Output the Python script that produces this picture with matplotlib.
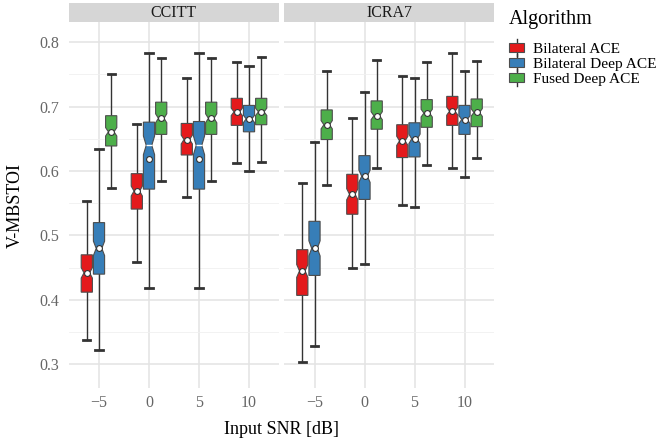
import matplotlib
matplotlib.use("Agg")
import matplotlib.pyplot as plt
import numpy as np
from matplotlib.patches import Patch, Rectangle
from matplotlib.lines import Line2D
from matplotlib.legend_handler import HandlerBase

plt.rcParams['font.family'] = ['Liberation Serif', 'DejaVu Serif']

panels = ['CCITT', 'ICRA7']
algorithms = ['Bilateral ACE', 'Bilateral Deep ACE', 'Fused Deep ACE']
colors = ['#E41A1C', '#377EB8', '#4DAF4A']
snr = [-5, 0, 5, 10]
n_obs = 128

# [panel][algorithm][snr]
whislo = [
    [[0.337, 0.459, 0.560, 0.612], [0.322, 0.419, 0.419, 0.600], [0.574, 0.585, 0.585, 0.614]],
    [[0.304, 0.450, 0.548, 0.605], [0.329, 0.456, 0.545, 0.591], [0.579, 0.605, 0.609, 0.620]],
]
q1 = [
    [[0.412, 0.541, 0.625, 0.671], [0.440, 0.572, 0.572, 0.661], [0.639, 0.657, 0.657, 0.672]],
    [[0.407, 0.533, 0.621, 0.671], [0.438, 0.556, 0.622, 0.657], [0.649, 0.665, 0.668, 0.669]],
]
med = [
    [[0.442, 0.569, 0.649, 0.692], [0.480, 0.640, 0.640, 0.681], [0.661, 0.682, 0.682, 0.692]],
    [[0.445, 0.564, 0.647, 0.693], [0.480, 0.592, 0.650, 0.680], [0.672, 0.686, 0.690, 0.691]],
]
q3 = [
    [[0.470, 0.596, 0.674, 0.713], [0.520, 0.676, 0.677, 0.702], [0.686, 0.707, 0.707, 0.713]],
    [[0.478, 0.595, 0.672, 0.716], [0.522, 0.624, 0.675, 0.702], [0.695, 0.709, 0.711, 0.712]],
]
whishi = [
    [[0.553, 0.673, 0.744, 0.770], [0.634, 0.783, 0.783, 0.763], [0.750, 0.775, 0.775, 0.777]],
    [[0.581, 0.682, 0.748, 0.783], [0.645, 0.723, 0.744, 0.755], [0.755, 0.772, 0.769, 0.771]],
]
means = [
    [[0.442, 0.569, 0.649, 0.692], [0.480, 0.618, 0.618, 0.681], [0.661, 0.682, 0.682, 0.692]],
    [[0.445, 0.564, 0.647, 0.693], [0.480, 0.592, 0.650, 0.680], [0.672, 0.686, 0.690, 0.691]],
]


class BoxKey(HandlerBase):
    # little boxplot glyph for the legend keys
    def create_artists(self, legend, orig_handle, xdescent, ydescent, width, height, fontsize, trans):
        cx = width / 2 - xdescent
        line = Line2D([cx, cx], [-ydescent - 0.4 * height, -ydescent + 1.4 * height],
                      color='#333333', linewidth=1.0, transform=trans)
        rect = Rectangle((-xdescent, -ydescent), width, height,
                         facecolor=orig_handle.get_facecolor(), edgecolor='#4d4d4d',
                         linewidth=0.8, transform=trans)
        return [line, rect]


W, H = 659, 444
fig = plt.figure(figsize=(W / 100, H / 100), dpi=100)

panel_x = [68.5, 284]
panel_w = 210
top, bottom = 22, 388
offsets = [-1.22, 0.0, 1.22]

for p, name in enumerate(panels):
    ax = fig.add_axes([panel_x[p] / W, 1 - bottom / H, panel_w / W, (bottom - top) / H])
    ax.set_xlim(-8.05, 12.95)
    ax.set_ylim(0.2632, 0.8315)
    ax.set_yticks([0.3, 0.4, 0.5, 0.6, 0.7, 0.8])
    ax.set_yticks([0.35, 0.45, 0.55, 0.65, 0.75], minor=True)
    ax.set_xticks(snr)
    ax.grid(True, which='major', color='#e3e3e3', linewidth=1.1, zorder=0)
    ax.grid(True, which='minor', axis='y', color='#f0f0f0', linewidth=0.6, zorder=0)
    ax.set_axisbelow(True)
    for s in ax.spines.values():
        s.set_visible(False)
    ax.tick_params(which='both', length=0, labelsize=11.5, labelcolor='#666666')
    ax.tick_params(axis='y', pad=7)
    ax.tick_params(axis='x', pad=5)
    if p > 0:
        ax.tick_params(labelleft=False)

    for a in range(len(algorithms)):
        stats = []
        for i in range(len(snr)):
            iqr = q3[p][a][i] - q1[p][a][i]
            notch = 1.58 * iqr / np.sqrt(n_obs)
            stats.append(dict(med=med[p][a][i], q1=q1[p][a][i], q3=q3[p][a][i],
                              whislo=whislo[p][a][i], whishi=whishi[p][a][i],
                              mean=means[p][a][i], cilo=med[p][a][i] - notch,
                              cihi=med[p][a][i] + notch, fliers=[]))
        pos = [x + offsets[a] for x in snr]
        bp = ax.bxp(stats, positions=pos, widths=1.12, capwidths=0.72,
                    shownotches=True, showmeans=True, patch_artist=True,
                    showfliers=False, manage_ticks=False,
                    boxprops=dict(facecolor=colors[a], edgecolor='#4d4d4d', linewidth=0.8),
                    whiskerprops=dict(color='#333333', linewidth=1.0),
                    capprops=dict(color='#333333', linewidth=2.0),
                    medianprops=dict(color='white', linewidth=1.0),
                    meanprops=dict(marker='o', markerfacecolor='white',
                                   markeredgecolor='#333333', markersize=4.2,
                                   markeredgewidth=0.8))
        for b in bp['boxes']:
            b.set_zorder(3)
        for m in bp['medians'] + bp['means']:
            m.set_zorder(4)

    sax = fig.add_axes([panel_x[p] / W, 1 - top / H, panel_w / W, 19 / H])
    sax.set_facecolor('#d6d6d6')
    sax.set_xticks([])
    sax.set_yticks([])
    for s in sax.spines.values():
        s.set_visible(False)
    sax.text(0.5, 0.45, name, ha='center', va='center', fontsize=11.5, color='#1a1a1a',
             transform=sax.transAxes)

fig.text(15 / W, 1 - 205 / H, 'V-MBSTOI', rotation=90, ha='center', va='center', fontsize=13)
fig.text(282 / W, 1 - 429 / H, 'Input SNR [dB]', ha='center', va='center', fontsize=13)

handles = [Patch(facecolor=c) for c in colors]
leg = fig.legend(handles, algorithms, loc='upper left', bbox_to_anchor=(509 / W, 1 - 10 / H),
                 frameon=False, title='Algorithm', title_fontsize=14.5, fontsize=11.1,
                 handler_map={Patch: BoxKey()},
                 handlelength=1.0, handleheight=0.55, handletextpad=0.55,
                 labelspacing=0.12, borderaxespad=0, borderpad=0)
leg._legend_box.align = 'left'
leg._legend_box.sep = 10

fig.savefig('out.png', dpi=100)
